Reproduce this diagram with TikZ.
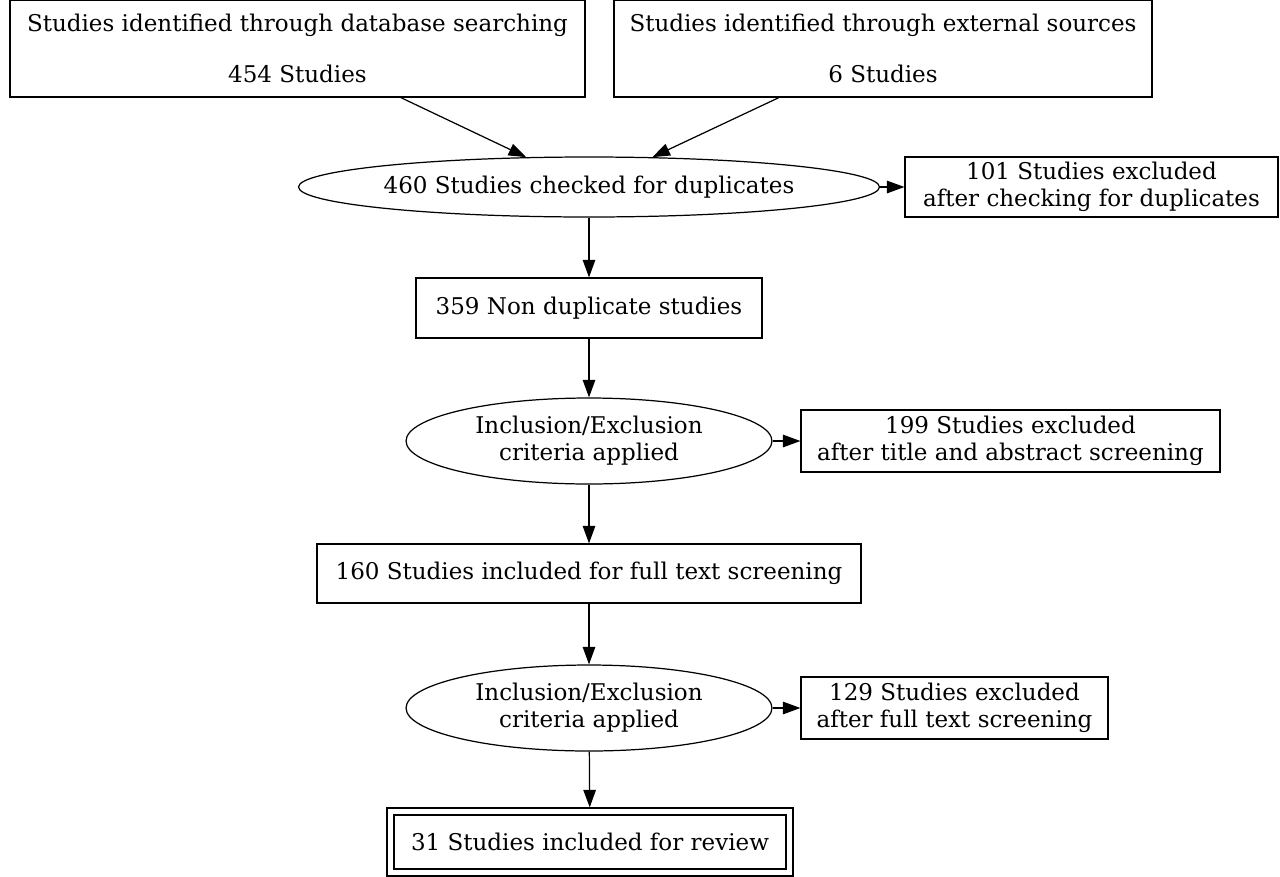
\documentclass[tikz,border=0pt]{standalone}
\usepackage{fontspec}
\setmainfont{DejaVu Serif}
\usetikzlibrary{arrows.meta,shapes.geometric,shapes.multipart}
\tikzset{
  box/.style={draw,rectangle,align=center,inner sep=0pt,line width=0.7pt},
  oval/.style={draw,ellipse,align=center,inner sep=0pt,line width=0.7pt},
  flow/.style={-{Triangle[length=3.5mm,width=2.5mm]},line width=0.7pt}
}
\begin{document}
\begin{tikzpicture}[x=0.02cm,y=-0.02cm]\fontsize{13.1}{15.5}\selectfont
\useasboundingbox (0,0) rectangle (1280,876);
\node[box,minimum width=11.5cm,minimum height=1.94cm] (db) at (297.5,48.5) {Studies identified through database searching\\[14pt]454 Studies};
\node[box,minimum width=10.76cm,minimum height=1.94cm] (ext) at (883,48.5) {Studies identified through external sources\\[14pt]6 Studies};
\node[oval,minimum width=11.48cm,minimum height=1.2cm] (dup) at (589,187) {460 Studies checked for duplicates};
\node[box,minimum width=7.46cm,minimum height=1.2cm] (exdup) at (1091.5,187) {101 Studies excluded\\after checking for duplicates};
\node[box,minimum width=6.92cm,minimum height=1.2cm] (nondup) at (589,308) {359 Non duplicate studies};
\node[oval,minimum width=7.32cm,minimum height=1.72cm] (crit1) at (589,441) {Inclusion/Exclusion\\criteria applied};
\node[box,minimum width=8.38cm,minimum height=1.24cm] (extitle) at (1010.5,441) {199 Studies excluded\\after title and abstract screening};
\node[box,minimum width=10.88cm,minimum height=1.18cm] (full) at (589,573.5) {160 Studies included for full text screening};
\node[oval,minimum width=7.32cm,minimum height=1.72cm] (crit2) at (589,708) {Inclusion/Exclusion\\criteria applied};
\node[box,minimum width=6.14cm,minimum height=1.24cm] (exfull) at (954.5,708) {129 Studies excluded\\after full text screening};
\node[box,minimum width=8.12cm,minimum height=1.36cm] (review) at (590,842) {};
\node[box,minimum width=7.84cm,minimum height=1.08cm] (reviewin) at (590,842) {31 Studies included for review};
\draw[flow] (db) -- (dup);
\draw[flow] (ext) -- (dup);
\draw[flow] (dup) -- (exdup);
\draw[flow] (dup) -- (nondup);
\draw[flow] (nondup) -- (crit1);
\draw[flow] (crit1) -- (extitle);
\draw[flow] (crit1) -- (full);
\draw[flow] (full) -- (crit2);
\draw[flow] (crit2) -- (exfull);
\draw[flow] (crit2) -- (review);
\end{tikzpicture}
\end{document}
